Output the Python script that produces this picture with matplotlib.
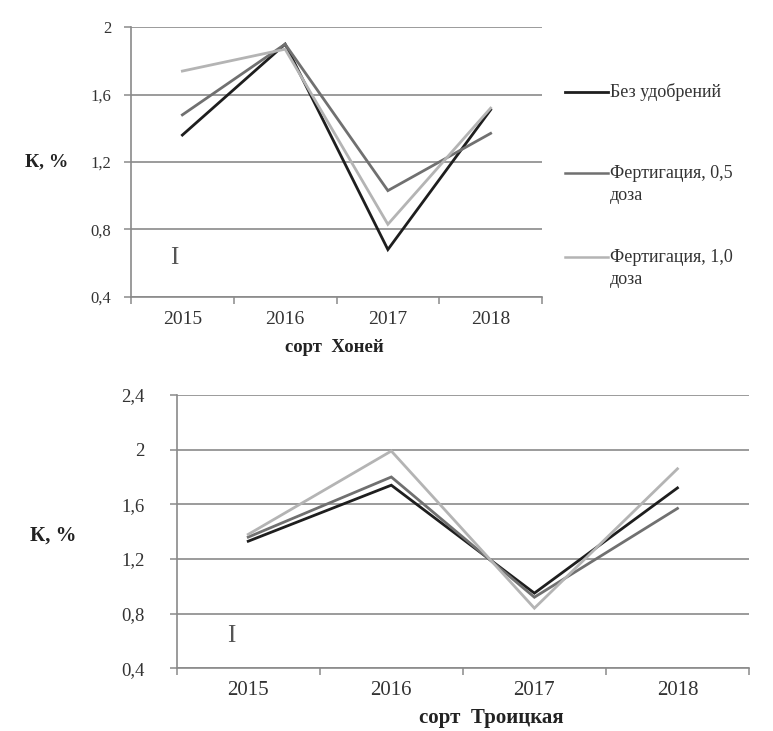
import matplotlib
matplotlib.use("Agg")
import matplotlib.pyplot as plt
from matplotlib.lines import Line2D
import numpy as np

# Potassium content, K %, by year, for two cultivars
years = ["2015", "2016", "2017", "2018"]
series_names = ["Без удобрений", "Фертигация, 0,5\nдоза", "Фертигация, 1,0\nдоза"]

honey_none = [1.36, 1.90, 0.68, 1.51]
honey_half = [1.48, 1.90, 1.03, 1.37]
honey_full = [1.74, 1.87, 0.83, 1.52]

troitskaya_none = [1.33, 1.74, 0.95, 1.72]
troitskaya_half = [1.36, 1.80, 0.92, 1.57]
troitskaya_full = [1.38, 1.99, 0.84, 1.86]

top_yticks = [0.4, 0.8, 1.2, 1.6, 2.0]
top_ylabels = ["0,4", "0,8", "1,2", "1,6", "2"]
bottom_yticks = [0.4, 0.8, 1.2, 1.6, 2.0, 2.4]
bottom_ylabels = ["0,4", "0,8", "1,2", "1,6", "2", "2,4"]

colors = ["#1e1e1e", "#707070", "#b4b4b4"]
serif = ["Liberation Serif", "DejaVu Serif"]
plt.rcParams["font.family"] = serif

W, H = 773, 731
fig = plt.figure(figsize=(W / 100, H / 100), dpi=100)
fig.patch.set_facecolor("white")


def frac_box(left, top, right, bottom):
    return [left / W, 1 - bottom / H, (right - left) / W, (bottom - top) / H]


def style_axes(ax, yticks, ylabels, ylim, ysize, xsize, ypad, xpad):
    x = np.arange(len(years))
    ax.set_xlim(-0.5, len(years) - 0.5)
    ax.set_ylim(*ylim)
    for s in ["top", "right"]:
        ax.spines[s].set_visible(False)
    for s in ["left", "bottom"]:
        ax.spines[s].set_color("#8a8a8a")
        ax.spines[s].set_linewidth(1.2)
    ax.set_yticks(yticks)
    ax.set_yticklabels(ylabels, fontsize=ysize, color="#333333")
    ax.yaxis.grid(True, color="#8a8a8a", linewidth=1.2)
    ax.set_axisbelow(True)
    ax.tick_params(axis="y", length=5, width=1.1, color="#8a8a8a", pad=ypad)
    ax.set_xticks(x)
    ax.set_xticklabels(years, fontsize=xsize, color="#333333")
    ax.set_xticks(np.arange(-0.5, len(years)), minor=True)
    ax.tick_params(axis="x", which="major", length=0, pad=xpad)
    ax.tick_params(axis="x", which="minor", length=5, width=1.1, color="#8a8a8a")


# Cultivar Honey
ax1 = fig.add_axes(frac_box(131, 27.3, 542, 296.7))
style_axes(ax1, top_yticks, top_ylabels, (0.4, 2.0), 12, 14, 9, 10)
x = np.arange(len(years))
for vals, c in zip([honey_none, honey_half, honey_full], colors):
    ax1.plot(x, vals, color=c, linewidth=2.0, solid_joinstyle="miter")
ax1.text(0.105, 0.145, "I", transform=ax1.transAxes, fontsize=18,
         color="#555555", ha="center", va="center")

# Legend: short line sample followed by the label, first text line level with the sample
legend_rows = [91.7, 173, 257]
for name, c, ypix in zip(series_names, colors, legend_rows):
    yf = 1 - ypix / H
    fig.add_artist(Line2D([565 / W, 608 / W], [yf, yf], color=c,
                          linewidth=2.0 if c == colors[0] else 1.8,
                          transform=fig.transFigure))
    first, *rest = name.split("\n")
    fig.text(610 / W, yf, first, fontsize=13, color="#333333",
             ha="left", va="center")
    for i, extra in enumerate(rest, start=1):
        fig.text(610 / W, 1 - (ypix + 22 * i) / H, extra, fontsize=13,
                 color="#333333", ha="left", va="center")

fig.text(25 / W, 1 - 161.7 / H, "К, %", fontsize=14, fontweight="bold",
         ha="left", va="center", color="#222222")
fig.text(334 / W, 1 - 347 / H, "сорт  Хоней", fontsize=13.5, fontweight="bold",
         ha="center", va="center", color="#222222")

# Cultivar Troitskaya
ax2 = fig.add_axes(frac_box(176.7, 395, 749, 668.3))
style_axes(ax2, bottom_yticks, bottom_ylabels, (0.4, 2.4), 13.5, 15, 18, 9)
for vals, c in zip([troitskaya_none, troitskaya_half, troitskaya_full], colors):
    ax2.plot(x, vals, color=c, linewidth=2.0, solid_joinstyle="miter")
ax2.text(0.095, 0.12, "I", transform=ax2.transAxes, fontsize=18,
         color="#555555", ha="center", va="center")

fig.text(30 / W, 1 - 535.7 / H, "К, %", fontsize=15, fontweight="bold",
         ha="left", va="center", color="#222222")
fig.text(491 / W, 1 - 718 / H, "сорт  Троицкая", fontsize=15, fontweight="bold",
         ha="center", va="center", color="#222222")

fig.savefig("out.png", dpi=100, facecolor="white")
